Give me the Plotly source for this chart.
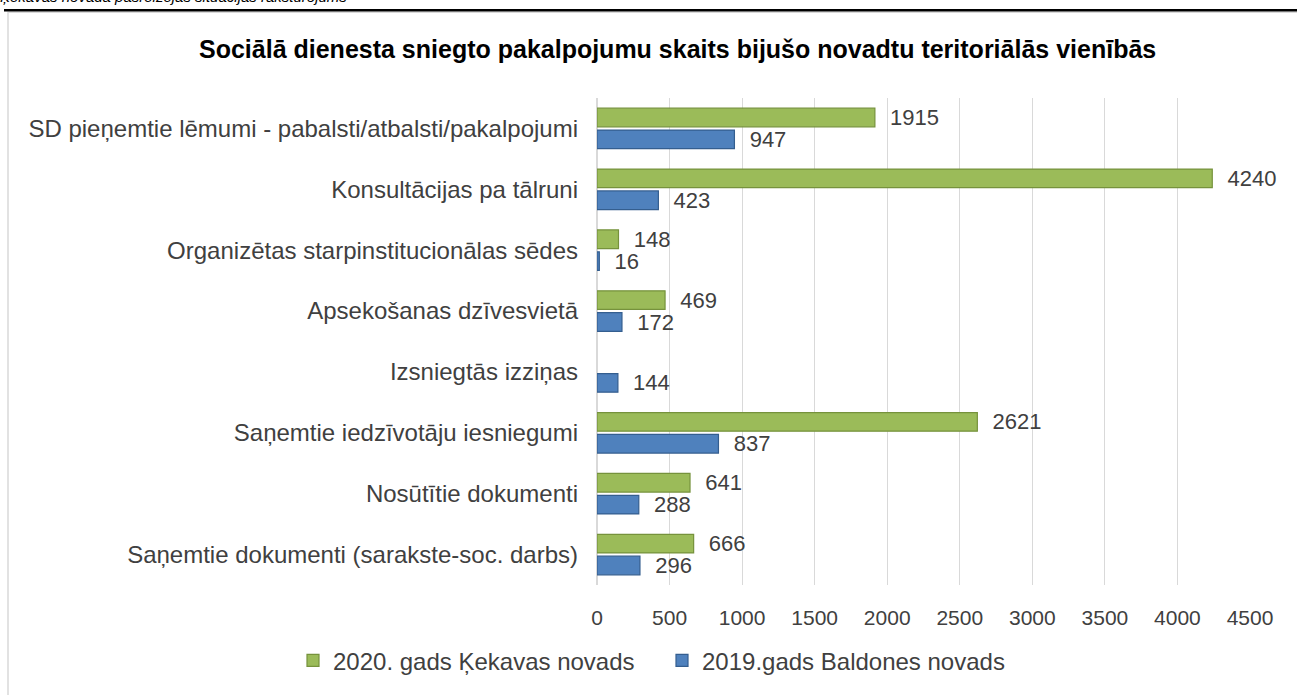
import plotly.graph_objects as go

categories = [
    "SD pieņemtie lēmumi - pabalsti/atbalsti/pakalpojumi",
    "Konsultācijas pa tālruni",
    "Organizētas starpinstitucionālas sēdes",
    "Apsekošanas dzīvesvietā",
    "Izsniegtās izziņas",
    "Saņemtie iedzīvotāju iesniegumi",
    "Nosūtītie dokumenti",
    "Saņemtie dokumenti (sarakste-soc. darbs)",
]
values_2020 = [1915, 4240, 148, 469, None, 2621, 641, 666]
values_2019 = [947, 423, 16, 172, 144, 837, 288, 296]
name_2020 = "2020. gads Ķekavas novads"
name_2019 = "2019.gads Baldones novads"
x_ticks = [0, 500, 1000, 1500, 2000, 2500, 3000, 3500, 4000, 4500]

title = "Sociālā dienesta sniegto pakalpojumu skaits bijušo novadtu teritoriālās vienībās"
header_text = "Ķekavas novadā pašreizējās situācijas raksturojums"

W, H = 1297, 695
L, R, T, B = 597, 1250, 98, 587


def px(x):
    return (x - L) / (R - L)


def py(y):
    return (B - y) / (B - T)


FONT = "Liberation Sans, Arial, sans-serif"
TXT = "#404040"
PAD = "\u00a0\u00a0"


def labels(vals):
    return [("" if v is None else PAD + str(v)) for v in vals]


fig = go.Figure()
fig.add_trace(go.Bar(
    y=categories, x=values_2020, orientation="h", name=name_2020,
    marker=dict(color="#9BBB59", line=dict(color="#76923C", width=1.2)),
    text=labels(values_2020),
    textposition="outside", cliponaxis=False, constraintext="none",
    textfont=dict(size=22, color=TXT, family=FONT),
))
fig.add_trace(go.Bar(
    y=categories, x=values_2019, orientation="h", name=name_2019,
    marker=dict(color="#4F81BD", line=dict(color="#345E8F", width=1.2)),
    text=labels(values_2019),
    textposition="outside", cliponaxis=False, constraintext="none",
    textfont=dict(size=22, color=TXT, family=FONT),
))

shapes = [
    dict(type="rect", xref="paper", yref="paper",
         x0=px(8), x1=px(1310), y0=py(12), y1=py(710),
         line=dict(color="#D9D9D9", width=1.5), layer="below"),
    dict(type="line", xref="paper", yref="paper",
         x0=px(4), x1=px(1310), y0=py(10), y1=py(10),
         line=dict(color="#000000", width=2.5)),
]

fig.update_layout(
    width=W, height=H,
    margin=dict(l=L, r=W - R, t=T, b=H - B),
    paper_bgcolor="white", plot_bgcolor="white",
    barmode="group", bargap=0.28, bargroupgap=0.15,
    font=dict(family=FONT, color=TXT),
    showlegend=True,
    legend=dict(orientation="h", x=px(293), xanchor="left", y=py(663), yanchor="middle",
                font=dict(size=24, color=TXT, family=FONT),
                traceorder="normal", itemwidth=30,
                entrywidth=324, entrywidthmode="pixels"),
    shapes=shapes,
    annotations=[
        dict(text="<b>" + title + "</b>", xref="paper", yref="paper",
             x=px(197), y=py(49), xanchor="left", yanchor="middle", showarrow=False,
             font=dict(size=25, color="#000000", family=FONT)),
        dict(text="<i>" + header_text + "</i>", xref="paper", yref="paper",
             x=px(-2), y=py(7), xanchor="left", yanchor="bottom", showarrow=False,
             font=dict(size=15, color="#000000", family=FONT)),
    ],
    xaxis=dict(range=[0, 4500], tickvals=x_ticks, showgrid=True, gridcolor="#D9D9D9",
               gridwidth=1, zeroline=True, zerolinecolor="#D9D9D9", showline=False,
               tickfont=dict(size=21, color=TXT, family=FONT), ticks="",
               ticklabelstandoff=18),
    yaxis=dict(categoryorder="array", categoryarray=categories, autorange="reversed",
               showgrid=False, ticks="", ticklabelstandoff=18,
               tickfont=dict(size=24, color=TXT, family=FONT)),
)

fig.write_html("out.html", config={"displayModeBar": False},
               post_script="document.body.style.margin='0px';")
